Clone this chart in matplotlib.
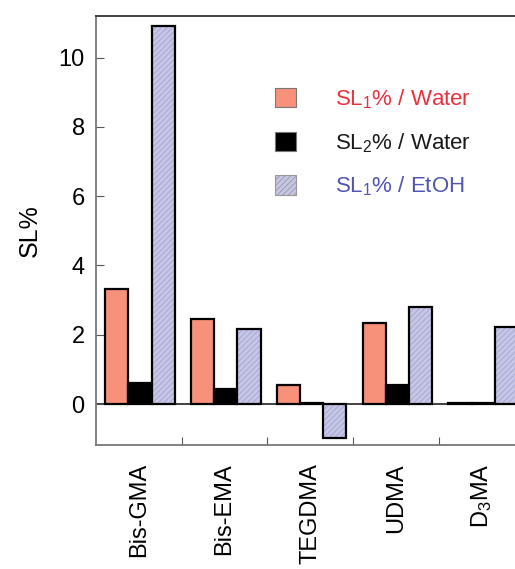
import matplotlib
matplotlib.use('Agg')
import matplotlib.pyplot as plt
import numpy as np
from matplotlib.patches import Patch

plt.rcParams['font.family'] = ['Liberation Sans', 'DejaVu Sans']
plt.rcParams['mathtext.fontset'] = 'custom'
plt.rcParams['mathtext.rm'] = 'Liberation Sans'
plt.rcParams['mathtext.it'] = 'Liberation Sans'
plt.rcParams['hatch.linewidth'] = 0.6

monomers = ['Bis-GMA', 'Bis-EMA', 'TEGDMA', 'UDMA', r'D$_3$MA']
sl1_water = [3.32, 2.46, 0.55, 2.34, 0.04]
sl2_water = [0.60, 0.43, 0.03, 0.55, 0.02]
sl1_etoh = [10.9, 2.17, -0.98, 2.80, 2.23]
series_labels = [r'SL$_1$% / Water', r'SL$_2$% / Water', r'SL$_1$% / EtOH']

orange = '#f7917a'
lavender = '#c6c6e6'
hatch_col = '#a4a4d0'
label_colors = ['#e8323c', '#1a1a1a', '#4f55b0']

fig = plt.figure(figsize=(5.15, 5.69), dpi=100)
ax = fig.add_axes([0.186, 0.218, 0.833, 0.754])

x = np.arange(len(monomers))
w = 0.27
ax.bar(x - 0.255, sl1_water, w, color=orange, edgecolor='black', linewidth=1.6, zorder=2)
ax.bar(x + 0.015, sl2_water, w, color='black', edgecolor='black', linewidth=1.6, zorder=2)
ax.bar(x + 0.285, sl1_etoh, w, color=lavender, edgecolor=hatch_col, hatch='//////',
       linewidth=0, zorder=2)
ax.bar(x + 0.285, sl1_etoh, w, fill=False, edgecolor='black', linewidth=1.6, zorder=3)

ax.axhline(0, color='#333333', linewidth=1.3, zorder=1)

ax.set_xlim(-0.5, len(monomers) - 0.5)
ax.set_ylim(-1.18, 11.2)
ax.set_yticks([0, 2, 4, 6, 8, 10])
ax.set_xticks(np.arange(len(monomers) - 1) + 0.5)
ax.set_xticklabels([])
ax.set_xticks(x, minor=True)
ax.set_xticklabels(monomers, minor=True, rotation=90, fontsize=17, va='top', ha='center')
ax.tick_params(axis='x', which='minor', length=0, pad=13)
ax.tick_params(axis='x', which='major', direction='in', length=6, color='#555555')
ax.tick_params(axis='y', direction='in', length=6, color='#555555', labelsize=17, pad=8)
for s in ['left', 'bottom']:
    ax.spines[s].set_color('#777777')
    ax.spines[s].set_linewidth(1.3)
ax.spines['top'].set_color('#333333')
ax.spines['top'].set_linewidth(1.3)
ax.spines['right'].set_visible(False)

ax.set_ylabel('SL%', fontsize=18, labelpad=12)

handles = [Patch(facecolor=orange, edgecolor='#777777', linewidth=0.8),
           Patch(facecolor='black', edgecolor='#777777', linewidth=0.8),
           Patch(facecolor=lavender, edgecolor='#999999', hatch='//////', linewidth=0.8)]
leg = ax.legend(handles, series_labels, loc='upper left', bbox_to_anchor=(0.371, 0.88),
                frameon=False, fontsize=16, handlelength=0.95, handleheight=0.95,
                handletextpad=1.75, labelspacing=0.9, labelcolor=label_colors)

fig.savefig('out.png', dpi=100)
